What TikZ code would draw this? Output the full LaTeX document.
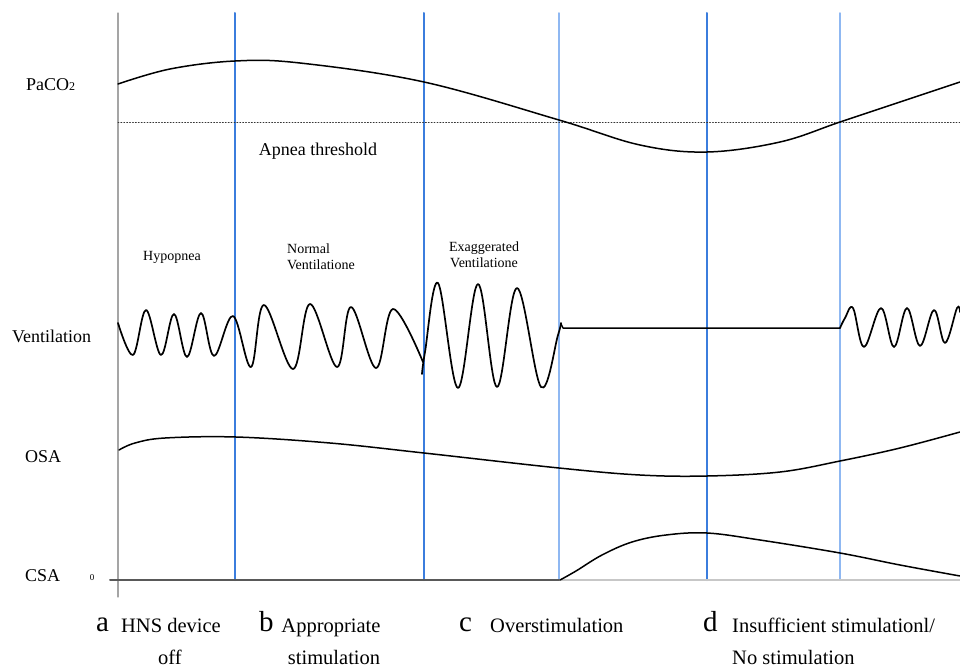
\documentclass[tikz,border=0pt]{standalone}
\usepackage{fontspec}
\setmainfont{Liberation Serif}
\definecolor{stimblue}{RGB}{59,125,221}
\definecolor{stimlight}{RGB}{143,184,242}
\definecolor{axisgray}{RGB}{165,165,165}
\begin{document}
\begin{tikzpicture}[x=1pt,y=-1pt, line join=round, line cap=round]
    \tikzstyle{curve}=[black, line width=1.5pt]
    \tikzstyle{wave}=[curve, line width=1.7pt]
    \tikzstyle{phase}=[draw=stimblue, line width=2pt]
    \tikzstyle{phase light}=[draw=stimlight, line width=1.5pt]
    \tikzstyle{row label}=[anchor=west, inner sep=0pt, font=\fontsize{18}{20}\selectfont]
    \tikzstyle{annot}=[inner sep=0pt, font=\fontsize{14}{16}\selectfont]
    \tikzstyle{letter}=[anchor=base west, inner sep=0pt, font=\fontsize{29}{30}\selectfont]
    \tikzstyle{caption}=[inner sep=0pt, font=\fontsize{20.5}{22}\selectfont]

    \useasboundingbox (0,0) rectangle (960,669);

    % Draw the time axis and the phase borders
    \draw[axisgray, line width=1.2pt] (118,13) -- (118,597);
    \foreach \x in {235,424,707}
      \draw[phase] (\x,13) -- (\x,580);
    \foreach \x in {559,840}
      \draw[phase light] (\x,13) -- (\x,580);

    % Draw the row labels
    \node[row label] (paco) at (26,85) {PaCO{\fontsize{12}{12}\selectfont 2}};
    \node[row label] (vent) at (12,336) {Ventilation};
    \node[row label] (osa) at (25,457) {OSA};
    \node[row label] (csa) at (25,576) {CSA};
    \node[inner sep=0pt, font=\fontsize{9}{10}\selectfont] (zero) at (92,578) {0};

    % PaCO2 and the apnea threshold
    \draw[black!80, line width=0.9pt, dotted] (118,122) -- (960,122);
    \node[inner sep=0pt, font=\fontsize{18}{20}\selectfont] (apnea) at (318,151) {Apnea threshold};
    \draw[curve] plot[smooth, tension=0.6] coordinates {(118,84) (170,69) (235,61) (300,63) (424,82)
      (559,120) (640,145) (707,152) (780,142) (840,122) (900,102) (960,82)};

    % Ventilation pattern in each phase
    \node[annot] (hypo) at (172,257) {Hypopnea};
    \node[annot, align=left] (normal) at (321,257) {Normal\\Ventilatione};
    \node[annot, align=center] (exag) at (484,255) {Exaggerated\\Ventilatione};
    \draw[wave] plot[smooth, tension=0.6] coordinates {(118,323) (133,355) (146,310) (161,355)
      (174,314) (187,357) (201,313) (214,356) (233,316) (251,367) (264,305) (293,369) (310,304)
      (337,367) (351,307) (376,368) (393,309) (423,362)};
    \draw[wave] plot[smooth, tension=0.6] coordinates {(422,374) (425,352) (438,283) (458,388)
      (478,284) (497,387) (517,288) (541,387) (558,335) (561,323)};
    \draw[curve] (561,324) -- (563,328) -- (840,328);
    \draw[wave] plot[smooth, tension=0.6] coordinates {(840,328) (845,318) (853,308) (864,347)
      (881,308) (894,347) (907,308) (920,346) (934,310) (945,343) (957,308) (960,312)};

    % OSA and CSA
    \draw[curve] plot[smooth, tension=0.6] coordinates {(119,450) (135,443) (165,438) (236,437)
      (330,443) (424,453) (559,468) (640,475) (707,476) (780,472) (840,461) (900,448) (960,432)};
    \draw[black!65, line width=2pt] (110,580) -- (560,580);
    \draw[black!22, line width=2pt] (560,580) -- (960,580);
    \draw[curve] plot[smooth, tension=0.6] coordinates {(560,580) (576,571) (602,555) (632,542)
      (666,535) (707,533) (760,540) (840,553) (900,565) (960,576)};

    % Phase captions
    \node[letter] (a) at (96,631) {a};
    \node[caption, anchor=base] (a-1) at (171,632) {HNS device};
    \node[caption, anchor=base] (a-2) at (170,664) {off};
    \node[letter] (b) at (259,631) {b};
    \node[caption, anchor=base] (b-1) at (331,632) {Appropriate};
    \node[caption, anchor=base] (b-2) at (334,664) {stimulation};
    \node[letter] (c) at (459,631) {c};
    \node[caption, anchor=base west] (c-1) at (490,632) {Overstimulation};
    \node[letter] (d) at (703,631) {d};
    \node[caption, anchor=base west] (d-1) at (732,632) {Insufficient stimulationl/};
    \node[caption, anchor=base west] (d-2) at (732,664) {No stimulation};
\end{tikzpicture}
\end{document}
